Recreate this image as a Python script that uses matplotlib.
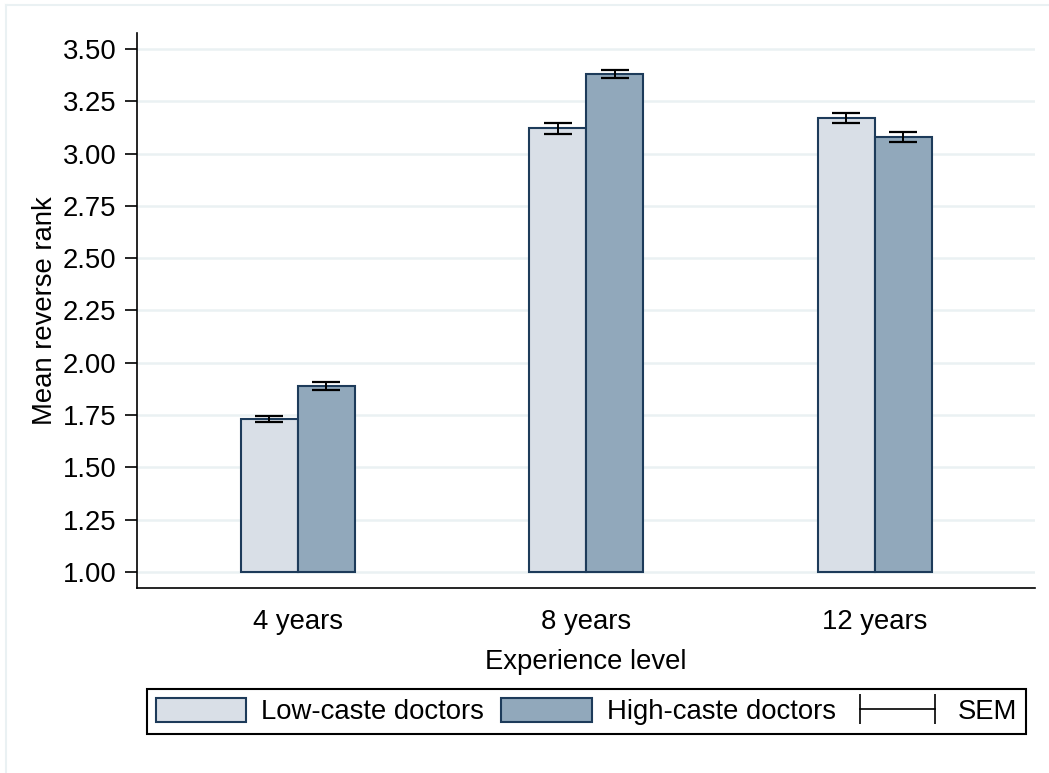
import matplotlib
matplotlib.use("Agg")
import matplotlib.pyplot as plt
import numpy as np
from matplotlib.patches import Patch
from matplotlib.lines import Line2D

# mean reverse rank by experience level, with standard errors
levels = ["4 years", "8 years", "12 years"]
low_mean = [1.73, 3.12, 3.17]
low_sem = [0.015, 0.025, 0.026]
high_mean = [1.89, 3.38, 3.08]
high_sem = [0.018, 0.019, 0.024]
yticks = [1.00, 1.25, 1.50, 1.75, 2.00, 2.25, 2.50, 2.75, 3.00, 3.25, 3.50]

plt.rcParams['font.family'] = ['Liberation Sans', 'DejaVu Sans']

LOW_COL = '#d9dfe7'
HIGH_COL = '#91a8bb'
EDGE = '#1d3b5a'
GRID = '#eaf1f3'
FS = 19.8

fig = plt.figure(figsize=(10.49, 7.73), dpi=100)
ax = fig.add_axes([137 / 1049, 1 - 588 / 773, (1035 - 137) / 1049, (588 - 33) / 773])

x = np.arange(len(levels))
w = 0.1976
base = 1.0
low_h = [m - base for m in low_mean]
high_h = [m - base for m in high_mean]
ax.bar(x - w / 2, low_h, w, bottom=base, color=LOW_COL, edgecolor=EDGE, linewidth=1.5, zorder=2)
ax.bar(x + w / 2, high_h, w, bottom=base, color=HIGH_COL, edgecolor=EDGE, linewidth=1.5, zorder=2)
ax.errorbar(x - w / 2, low_mean, yerr=low_sem, fmt='none', ecolor='black', elinewidth=1.4, capsize=10, capthick=1.6, zorder=3)
ax.errorbar(x + w / 2, high_mean, yerr=high_sem, fmt='none', ecolor='black', elinewidth=1.4, capsize=10, capthick=1.6, zorder=3)

ax.set_xlim(-0.558, 2.555)
ax.set_ylim(0.9235, 3.576)
ax.set_yticks(yticks)
ax.set_yticklabels([f"{t:.2f}" for t in yticks])
ax.set_xticks(x)
ax.set_xticklabels(levels)
ax.tick_params(axis='y', length=9, width=1.2, pad=6, labelsize=FS)
ax.tick_params(axis='x', length=0, pad=15, labelsize=FS)
ax.yaxis.grid(True, color=GRID, linewidth=1.8, zorder=0)
ax.set_axisbelow(True)
for s in ['top', 'right']:
    ax.spines[s].set_visible(False)
for s in ['left', 'bottom']:
    ax.spines[s].set_linewidth(1.2)

ax.set_ylabel("Mean reverse rank", fontsize=FS, labelpad=3)
ax.set_xlabel("Experience level", fontsize=FS, labelpad=10)

handles = [
    Patch(facecolor=LOW_COL, edgecolor=EDGE, linewidth=1.5),
    Patch(facecolor=HIGH_COL, edgecolor=EDGE, linewidth=1.5),
    Line2D([], [], color='black', linewidth=1.2, marker='|', markersize=22, markeredgewidth=1.2),
]
leg = fig.legend(handles, ["Low-caste doctors", "High-caste doctors", "SEM"],
                 ncol=3, loc='center', bbox_to_anchor=(586.5 / 1049, 1 - 711.5 / 773),
                 fontsize=FS, numpoints=2, handlelength=3.3, handleheight=1.0,
                 handletextpad=0.55, columnspacing=0.6, borderpad=0.3,
                 fancybox=False, framealpha=1, edgecolor='black')
leg.get_frame().set_linewidth(1.5)

# light outer frame
fig.add_artist(Line2D([6 / 1049, 1.0], [1 - 5 / 773, 1 - 5 / 773], color=GRID, linewidth=1.5))
fig.add_artist(Line2D([6 / 1049, 6 / 1049], [0.0, 1 - 5 / 773], color=GRID, linewidth=1.5))

fig.savefig("out.png", dpi=100, facecolor='white')
